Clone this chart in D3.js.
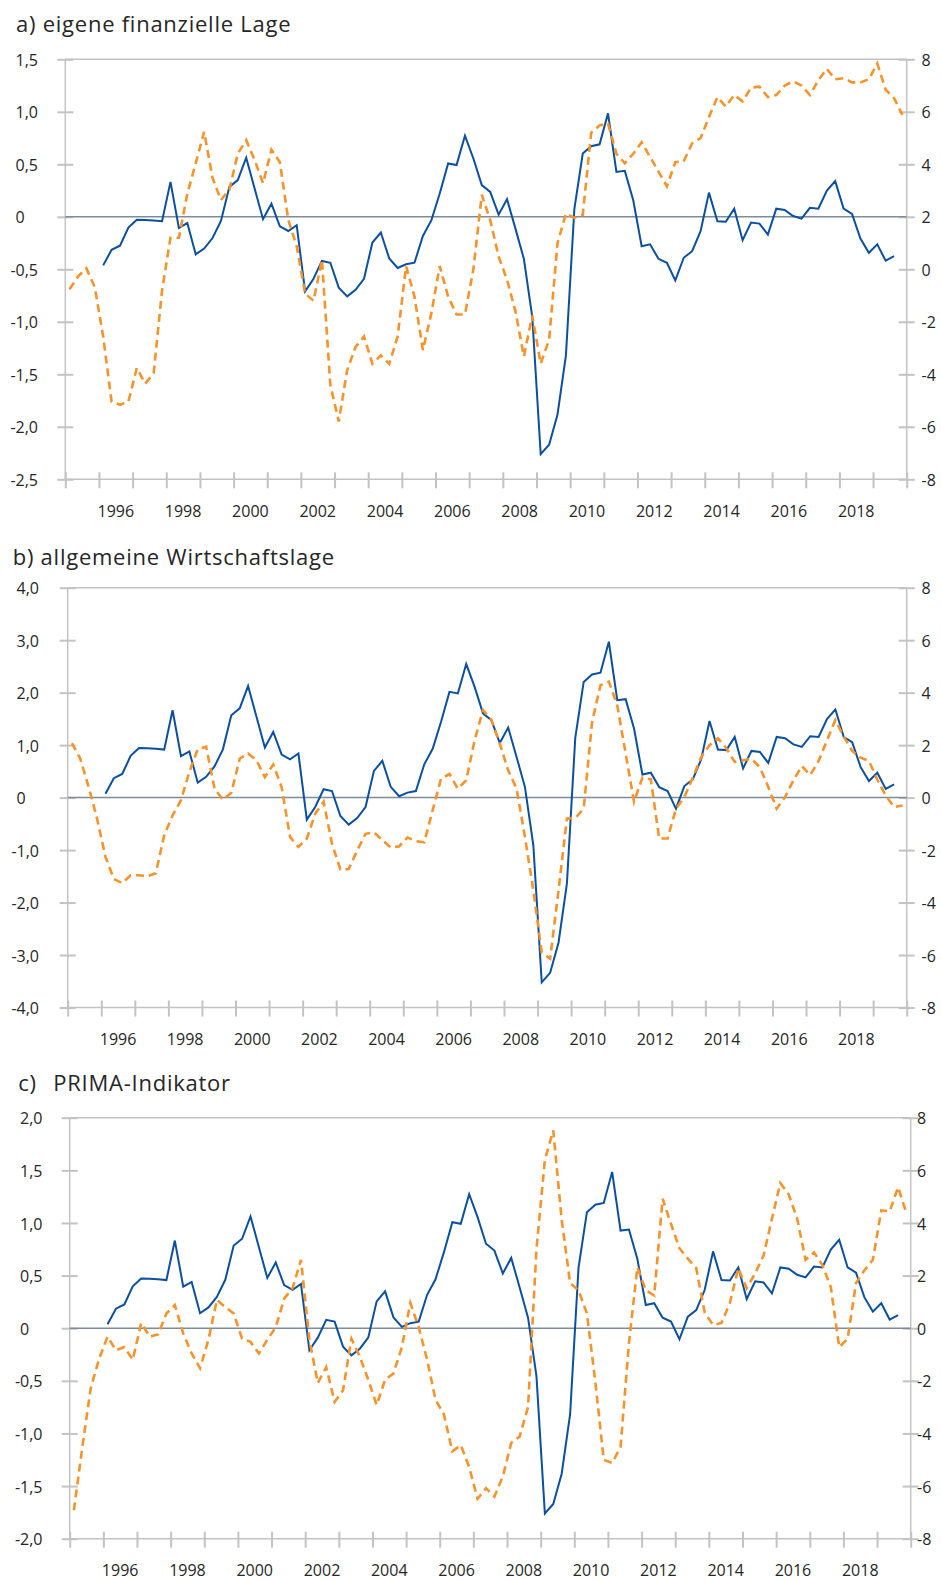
<!DOCTYPE html>
<html><head><meta charset="utf-8">
<script src="https://cdn.jsdelivr.net/npm/d3@7"></script>
<style>
html,body{margin:0;padding:0;background:#fff;}
svg{display:block;}
text{font-family:"Open Sans",Lato,sans-serif;fill:#262626;}
</style></head>
<body>
<svg id="chart" width="941" height="1581"></svg>
<script>
// ---------- data ----------
const years = d3.range(1995, 2020);               // quarters 1995Q1 .. 2019Q4
const yearTickLabels = ["1996","1998","2000","2002","2004","2006","2008","2010","2012","2014","2016","2018"];

// blue series (right axis), 1996Q1 .. 2019Q3
const blueStartIndex = 4;
const blueSeries = [
  0.15, 0.74, 0.90, 1.59,   1.89, 1.88, 1.86, 1.83,   3.33, 1.58, 1.76, 0.57,
  0.79, 1.19, 1.84, 3.14,   3.40, 4.25, 3.08, 1.91,   2.50, 1.64, 1.46, 1.68,
  -0.84, -0.36, 0.32, 0.25, -0.70, -1.03, -0.78, -0.36, 1.02, 1.40, 0.41, 0.05,
  0.19, 0.25, 1.27, 1.86,   2.89, 4.03, 3.97, 5.09,   4.22, 3.21, 2.95, 2.08,
  2.67, 1.55, 0.40, -1.82,  -7.04, -6.68, -5.53, -3.28, 2.29, 4.41, 4.69, 4.76,
  5.94, 3.71, 3.75, 2.63,   0.88, 0.95, 0.40, 0.25,   -0.42, 0.44, 0.69, 1.45,
  2.92, 1.83, 1.81, 2.31,   1.11, 1.78, 1.74, 1.32,   2.31, 2.26, 2.03, 1.93,
  2.34, 2.31, 2.99, 3.36,   2.31, 2.11, 1.17, 0.63,   0.95, 0.33, 0.50
];

// orange series (left axis), 1995Q1 .. 2019Q4
const orangeA = [
  -0.69, -0.57, -0.49, -0.67,  -1.14, -1.76, -1.79, -1.76,  -1.44, -1.59, -1.49, -0.70,
  -0.20, -0.20, 0.22, 0.51,    0.81, 0.37, 0.16, 0.26,      0.60, 0.73, 0.54, 0.32,
  0.64, 0.52, -0.03, -0.28,    -0.73, -0.80, -0.41, -1.60,  -1.95, -1.46, -1.24, -1.14,
  -1.40, -1.32, -1.40, -1.14,  -0.47, -0.76, -1.27, -0.92,  -0.47, -0.76, -0.93, -0.93,
  -0.50, 0.21, -0.03, -0.38,   -0.60, -0.90, -1.33, -0.94,  -1.40, -1.17, -0.25, 0.03,
  -0.01, 0.02, 0.80, 0.87,     0.89, 0.60, 0.51, 0.60,      0.71, 0.57, 0.43, 0.29,
  0.52, 0.53, 0.70, 0.75,      0.95, 1.14, 1.05, 1.16,      1.10, 1.23, 1.24, 1.14,
  1.16, 1.25, 1.29, 1.25,      1.16, 1.30, 1.41, 1.31,      1.32, 1.28, 1.28, 1.31,
  1.46, 1.21, 1.13, 0.97
];
const orangeB = [
  1.04, 0.74, 0.20, -0.40,     -1.13, -1.55, -1.63, -1.48,  -1.48, -1.50, -1.44, -0.72,
  -0.34, -0.05, 0.49, 0.92,    0.97, 0.17, -0.04, 0.09,     0.74, 0.84, 0.71, 0.39,
  0.63, 0.20, -0.75, -0.94,    -0.78, -0.31, -0.08, -0.88,  -1.37, -1.36, -1.01, -0.69,
  -0.66, -0.81, -0.95, -0.93,  -0.76, -0.83, -0.85, -0.24,  0.36, 0.45, 0.17, 0.33,
  1.09, 1.67, 1.48, 1.03,      0.52, 0.17, -0.75, -1.77,    -2.95, -3.07, -1.77, -0.40,
  -0.39, -0.21, 1.44, 2.14,    2.21, 1.76, 0.84, -0.08,     0.38, 0.35, -0.78, -0.78,
  -0.21, 0.01, 0.38, 0.77,     1.00, 1.13, 0.94, 0.68,      0.71, 0.74, 0.58, 0.20,
  -0.21, 0.01, 0.33, 0.60,     0.43, 0.70, 1.09, 1.48,      1.16, 0.89, 0.76, 0.70,
  0.34, 0.04, -0.18, -0.15
];
const orangeC = [
  -1.73, -1.13, -0.57, -0.29,  -0.08, -0.21, -0.18, -0.30,  0.05, -0.08, -0.06, 0.14,
  0.22, -0.05, -0.24, -0.38,   -0.11, 0.27, 0.20, 0.14,     -0.10, -0.13, -0.24, -0.11,
  0.01, 0.28, 0.38, 0.65,      -0.11, -0.52, -0.37, -0.70,  -0.59, -0.10, -0.27, -0.49,
  -0.73, -0.49, -0.43, -0.18,  0.24, 0.01, -0.30, -0.68,    -0.82, -1.17, -1.11, -1.32,
  -1.62, -1.52, -1.60, -1.41,  -1.09, -1.03, -0.75, 0.75,   1.60, 1.88, 1.03, 0.43,
  0.36, 0.14, -0.51, -1.25,    -1.28, -1.13, -0.14, 0.58,   0.36, 0.31, 1.23, 0.99,
  0.76, 0.66, 0.57, 0.15,      0.03, 0.05, 0.24, 0.57,      0.38, 0.52, 0.69, 1.04,
  1.38, 1.27, 1.04, 0.65,      0.72, 0.60, 0.39, -0.18,     -0.10, 0.43, 0.55, 0.65,
  1.12, 1.11, 1.34, 1.09
];

const leftTicksA = [1.5, 1.0, 0.5, 0, -0.5, -1.0, -1.5, -2.0, -2.5];
const leftTicksB = [4, 3, 2, 1, 0, -1, -2, -3, -4];
const leftTicksC = [2.0, 1.5, 1.0, 0.5, 0, -0.5, -1.0, -1.5, -2.0];
const rightTicks = [8, 6, 4, 2, 0, -2, -4, -6, -8];

// ---------- layout ----------
const panels = [
  {title:["a)", " eigene finanzielle Lage"], tx:[16, null], ty:32, top:59.3, bottom:479.3, left:65.3, right:906.7,
   lDomain:[-2.5,1.5], lTicks:leftTicksA, lLabelRight:38, rLabelX:921.5, orange:orangeA},
  {title:["b)", " allgemeine Wirtschaftslage"], tx:[12.7, null], ty:565, top:587.7, bottom:1007.5, left:67.7, right:906.7,
   lDomain:[-4,4], lTicks:leftTicksB, lLabelRight:39, rLabelX:921.5, orange:orangeB},
  {title:["c)", "PRIMA-Indikator"], tx:[18.3, 53.3], ty:1090.7, top:1117.7, bottom:1538.7, left:69.7, right:910.7,
   lDomain:[-2,2], lTicks:leftTicksC, lLabelRight:42.5, rLabelX:917, orange:orangeC}
];

const BLUE = "#0b4f9f", ORANGE = "#f7932a", AXIS = "#c3c3c3", ZERO = "#7e8c99";
const FONT = "'Open Sans', Lato, sans-serif";
const quarterTimes = years.flatMap(y => [0,1,2,3].map(q => y + q/4 + 0.125));
const fmtLeft = v => v === 0 ? "0" : (v < 0 ? "-" : "") + Math.abs(v).toFixed(1).replace(".", ",");
const fmtRight = v => (v < 0 ? "-" : "") + Math.abs(v);

const svg = d3.select("#chart");

panels.forEach(p => {
  const g = svg.append("g");
  const x = d3.scaleLinear().domain([1995, 2020]).range([p.left, p.right]);
  const yL = d3.scaleLinear().domain(p.lDomain).range([p.bottom, p.top]);
  const yR = d3.scaleLinear().domain([-8, 8]).range([p.bottom, p.top]);

  // title
  const t = g.append("text").attr("x", p.tx[0]).attr("y", p.ty)
    .style("font-size", "22px").style("font-family", FONT).style("letter-spacing", "0.75px");
  t.append("tspan").text(p.title[0]);
  const t2 = t.append("tspan").text(p.title[1]);
  if (p.tx[1] != null) t2.attr("x", p.tx[1]);

  // frame line at top
  g.append("line").attr("x1", p.left).attr("x2", p.right).attr("y1", p.top).attr("y2", p.top)
    .attr("stroke", AXIS).attr("stroke-width", 1.5);

  // left axis
  const gl = g.append("g").attr("transform", `translate(${p.left},0)`)
    .call(d3.axisLeft(yL).tickValues(p.lTicks).tickFormat(fmtLeft).tickSize(8));
  gl.select(".domain").attr("stroke", AXIS).attr("stroke-width", 1.5).attr("d", `M0,${p.top}V${p.bottom}`);
  gl.selectAll(".tick line").attr("x1", -8).attr("x2", 8).attr("stroke", AXIS).attr("stroke-width", 2);
  gl.selectAll(".tick text").attr("x", p.lLabelRight - p.left).attr("dy", "0.38em")
    .attr("text-anchor", "end").style("font-size", "16px").style("font-family", FONT).attr("fill", "#262626");
  const posText = gl.selectAll(".tick text").filter(d => d === p.lTicks[0]).node();
  const startX = posText ? (p.lLabelRight - p.left) - posText.getComputedTextLength() : 0;
  gl.selectAll(".tick text").filter(d => d === 0).attr("text-anchor", "start").attr("x", startX);

  // right axis
  const gr = g.append("g").attr("transform", `translate(${p.right},0)`)
    .call(d3.axisRight(yR).tickValues(rightTicks).tickFormat(fmtRight).tickSize(8));
  gr.select(".domain").attr("stroke", AXIS).attr("stroke-width", 1.5).attr("d", `M0,${p.top}V${p.bottom}`);
  gr.selectAll(".tick line").attr("x1", -8).attr("x2", 8).attr("stroke", AXIS).attr("stroke-width", 2);
  gr.selectAll(".tick text").attr("x", p.rLabelX - p.right).attr("dy", "0.38em")
    .attr("text-anchor", "start").style("font-size", "16px").style("font-family", FONT).attr("fill", "#262626");

  // bottom axis
  const gb = g.append("g").attr("transform", `translate(0,${p.bottom})`)
    .call(d3.axisBottom(x).tickValues(d3.range(1995, 2021)).tickFormat("").tickSize(8));
  gb.select(".domain").attr("stroke", AXIS).attr("stroke-width", 1.5).attr("d", `M${p.left},0H${p.right}`);
  gb.selectAll(".tick line").attr("y1", -7).attr("y2", 9).attr("stroke", AXIS).attr("stroke-width", 2);
  g.append("g").selectAll("text").data(yearTickLabels).join("text")
    .attr("x", d => x(+d + 0.5)).attr("y", p.bottom + 37.5)
    .attr("text-anchor", "middle").style("font-size", "16px").style("font-family", FONT).text(d => d);

  // zero line
  g.append("line").attr("x1", p.left).attr("x2", p.right).attr("y1", yL(0)).attr("y2", yL(0))
    .attr("stroke", ZERO).attr("stroke-width", 1.5);

  // blue line (right axis)
  const blueData = blueSeries.map((v, i) => ({t: quarterTimes[i + blueStartIndex], v}));
  g.append("path").datum(blueData)
    .attr("fill", "none").attr("stroke", BLUE).attr("stroke-width", 2)
    .attr("d", d3.line().x(d => x(d.t)).y(d => yR(d.v)));

  // orange dashed line (left axis)
  const orData = p.orange.map((v, i) => ({t: quarterTimes[i], v}));
  g.append("path").datum(orData)
    .attr("fill", "none").attr("stroke", ORANGE).attr("stroke-width", 2.6).attr("stroke-dasharray", "8,5")
    .attr("d", d3.line().x(d => x(d.t)).y(d => yL(d.v)));
});
</script>
</body></html>
